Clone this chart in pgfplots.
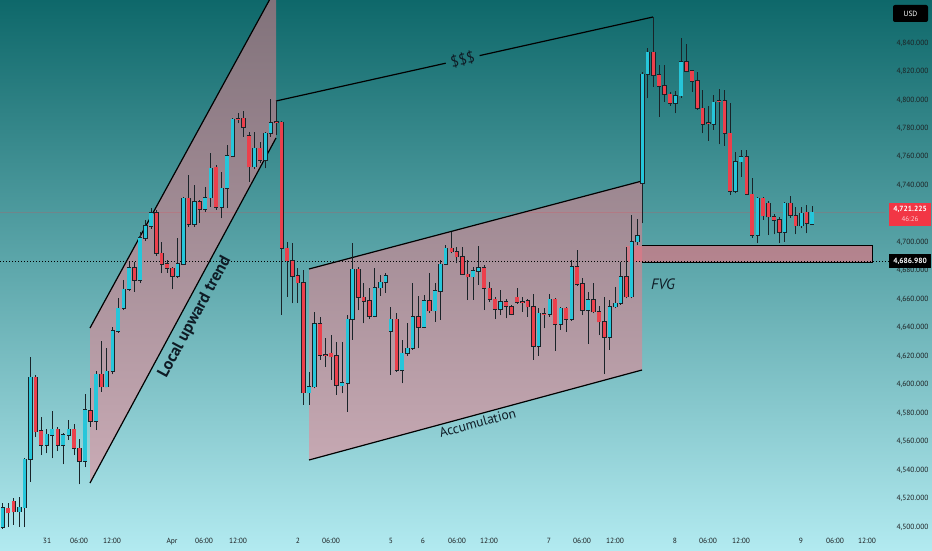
\documentclass[border=0pt]{standalone}
\usepackage{fontspec}
\setmainfont{PT Sans}
\usepackage{pgfplots}
\pgfplotsset{compat=1.18}
\usepackage{pgfplotstable}

\definecolor{bgtop}{RGB}{14,104,106}
\definecolor{bgbot}{RGB}{178,234,240}
\definecolor{upc}{RGB}{38,198,218}
\definecolor{dnc}{RGB}{236,64,76}
\definecolor{edge}{RGB}{25,35,40}
\definecolor{chan}{RGB}{245,125,140}
\definecolor{fvg}{RGB}{240,110,125}
\definecolor{tagred}{RGB}{242,54,69}
\definecolor{lbl}{RGB}{28,32,34}
\definecolor{ink}{RGB}{15,28,38}

% candles: x = pixel column, lo/hi = body, l/h = wick
\pgfplotstableread{
x lo hi l h
2.7 4499.99 4513.34 4498.59 4516.85
19.3 4510.74 4513.83 4499.99 4521.28
24.7 4513.69 4547.55 4499.99 4548.46
30.3 4547.55 4605.16 4531.82 4619.21
46.7 4557.39 4565.11 4551.77 4568.84
52 4564.41 4568.63 4548.25 4581.48
63 4557.39 4564.62 4544.04 4566.24
68.7 4564.41 4568.63 4561.11 4575.16
85 4546.36 4582.18 4541.93 4593.42
96 4574.46 4607.26 4568.13 4609.79
106.7 4598.55 4609.37 4598.13 4625.53
112.7 4609.58 4637.68 4607.26 4640.70
118 4637.68 4653.63 4636.49 4660.65
123.7 4653.63 4666.98 4652.43 4673.51
129 4666.98 4681.94 4665.78 4686.16
140 4673.51 4703.01 4671.40 4707.23
145.3 4703.01 4711.45 4700.91 4715.66
151 4711.45 4720.58 4709.34 4724.09
177.7 4676.32 4684.75 4674.70 4702.80
183.3 4684.75 4730.90 4684.05 4732.03
194.3 4712.64 4728.52 4710.96 4740.25
205 4723.18 4731.33 4721.49 4738.63
210.7 4731.33 4751.98 4724.97 4762.94
221.7 4724.59 4737.93 4716.85 4749.59
227 4737.93 4760.62 4723.88 4768.35
232.7 4760.62 4786.40 4760.13 4787.10
254.3 4753.10 4766.03 4751.28 4777.69
265.3 4757.81 4776.57 4751.98 4777.69
270.7 4776.57 4784.01 4774.18 4800.66
309 4594.34 4598.55 4585.70 4609.09
314.3 4598.55 4642.60 4597.43 4651.24
342 4599.25 4601.36 4593.91 4630.17
347.7 4600.94 4645.90 4581.00 4648.92
352.3 4645.90 4681.03 4631.36 4699.72
374.7 4648.22 4668.10 4647.31 4681.73
380.3 4668.10 4671.89 4662.27 4677.02
385.7 4671.89 4676.32 4664.59 4678.22
390.7 4637.68 4645.90 4606.77 4654.33
402 4610.29 4622.01 4600.94 4631.36
407.3 4622.01 4625.53 4620.12 4643.09
412.7 4625.53 4647.73 4624.34 4671.61
424 4640.28 4658.76 4639.58 4662.97
435 4651.94 4665.78 4644.22 4671.19
440.3 4665.78 4684.54 4645.41 4687.56
445.7 4684.54 4695.78 4684.05 4698.10
473 4675.83 4679.83 4659.46 4682.85
478.3 4679.83 4682.15 4670.00 4697.40
500.3 4653.13 4658.27 4648.92 4666.49
538.7 4627.15 4650.11 4620.12 4653.63
549.7 4649.63 4659.95 4647.73 4663.67
560.7 4642.39 4653.63 4638.39 4654.75
571.7 4645.90 4682.85 4644.92 4687.56
588 4652.43 4659.46 4628.55 4665.29
609.7 4633.26 4654.75 4624.34 4659.46
615.3 4654.75 4657.13 4653.63 4668.38
620.7 4657.13 4675.83 4655.95 4686.36
631.7 4661.78 4700.42 4660.65 4719.17
637.3 4700.42 4704.42 4698.10 4716.71
642.3 4741.44 4818.01 4713.34 4819.42
647.7 4818.01 4833.47 4801.15 4836.28
675.3 4797.64 4802.98 4790.62 4806.29
681 4802.98 4826.87 4801.58 4843.72
713.7 4782.89 4798.35 4778.89 4803.47
735.3 4736.03 4756.62 4734.42 4763.64
741 4756.62 4760.13 4746.08 4764.84
757.7 4705.12 4730.90 4699.29 4732.03
784.7 4707.02 4727.39 4700.42 4728.52
801.3 4711.66 4720.37 4709.83 4724.97
812 4712.64 4721.07 4712.15 4725.50
}\bull

\pgfplotstableread{
x lo hi l h
8 4510.04 4513.13 4499.99 4516.85
13.7 4510.74 4518.05 4501.40 4520.36
35.7 4566.94 4605.16 4563.43 4606.77
41 4557.39 4567.43 4550.57 4577.48
57.7 4557.39 4568.63 4553.38 4570.45
74 4555.28 4568.63 4550.57 4572.14
79.3 4546.36 4555.28 4529.99 4561.60
90.3 4574.46 4581.69 4570.45 4597.85
101.3 4598.55 4607.26 4595.04 4630.87
134.3 4673.51 4681.94 4665.08 4686.16
156.3 4692.48 4720.58 4690.37 4722.69
161.7 4684.75 4692.27 4678.22 4700.42
167 4681.73 4684.75 4678.64 4687.56
172.3 4676.32 4681.73 4666.98 4682.85
188.7 4712.64 4730.90 4710.96 4747.27
199.7 4723.18 4728.52 4713.76 4729.71
216 4724.59 4752.68 4722.69 4754.30
238 4786.20 4786.60 4783.59 4790.62
243.3 4780.78 4787.10 4774.18 4792.45
249 4753.10 4774.67 4742.56 4777.69
260 4757.81 4766.03 4755.91 4770.67
276.3 4784.10 4784.50 4775.37 4799.96
281.7 4695.78 4784.29 4649.27 4785.42
287 4687.07 4695.78 4661.78 4700.42
292.3 4676.32 4687.07 4657.13 4699.29
297.7 4671.75 4676.32 4657.35 4681.94
303.3 4594.34 4671.75 4585.70 4680.53
320 4620.82 4642.60 4617.31 4647.73
325.3 4620.60 4621.00 4612.60 4632.55
331 4619.62 4622.01 4603.26 4634.87
336.3 4599.74 4620.12 4592.73 4630.17
358.3 4661.36 4681.03 4652.43 4682.85
363.7 4658.76 4661.36 4643.09 4671.19
369.3 4648.22 4658.76 4645.90 4667.68
396.7 4610.29 4645.90 4609.09 4650.54
418.3 4640.28 4647.73 4625.53 4662.27
429.3 4651.94 4658.76 4650.54 4678.64
451.7 4693.39 4695.78 4692.27 4707.44
456.7 4689.88 4693.39 4685.24 4696.90
462.3 4677.52 4689.88 4677.02 4696.90
467.7 4675.83 4677.52 4659.46 4687.56
484 4667.68 4682.15 4652.43 4684.05
489.7 4659.95 4667.68 4658.27 4672.32
495 4653.13 4659.95 4646.11 4661.78
506 4655.25 4658.27 4646.60 4659.95
511.3 4649.41 4654.75 4648.92 4655.95
517 4657.85 4661.36 4656.65 4667.68
522.3 4658.10 4658.40 4651.24 4661.36
527.7 4654.75 4658.76 4647.73 4659.95
533.3 4627.15 4654.75 4617.31 4663.67
544 4649.50 4649.80 4639.58 4653.63
555 4642.39 4659.95 4623.85 4660.65
566 4645.90 4653.63 4637.19 4654.75
577 4670.70 4682.85 4669.30 4694.59
582.3 4652.43 4670.70 4648.92 4674.70
593.3 4651.24 4659.46 4650.11 4671.19
599 4644.22 4651.24 4634.87 4655.25
604.3 4633.26 4644.22 4607.46 4661.36
626.3 4661.78 4675.83 4660.65 4696.69
653.3 4817.52 4833.47 4809.30 4858.48
659 4809.80 4817.52 4788.23 4824.55
664.3 4803.96 4809.80 4798.77 4824.55
670 4797.64 4803.96 4795.96 4805.37
686.3 4820.33 4826.87 4819.42 4839.09
692 4813.31 4820.33 4805.79 4821.04
697.3 4794.13 4813.31 4792.94 4819.42
702.7 4782.89 4794.13 4776.57 4806.99
708.3 4783.40 4783.80 4771.16 4795.96
719 4799.10 4799.40 4768.84 4807.69
724.7 4776.57 4799.26 4767.86 4806.99
730 4736.03 4776.57 4733.22 4797.64
746.7 4733.71 4760.13 4733.22 4764.84
752 4705.12 4733.71 4703.23 4744.95
763 4718.68 4730.90 4715.66 4732.03
768.3 4717.97 4727.39 4705.12 4729.01
774 4715.66 4717.76 4705.61 4719.66
779.3 4707.02 4715.66 4699.29 4717.97
790.3 4719.17 4727.39 4717.27 4732.73
795.7 4711.66 4718.68 4705.61 4724.97
806.7 4713.34 4721.07 4706.32 4726.20
}\bear

\newcommand{\fs}[1]{\fontsize{#1}{#1}\selectfont}

\begin{document}
\begin{tikzpicture}
\useasboundingbox (0,0) rectangle (932pt,550pt);
\clip (0,0) rectangle (932pt,550pt);
\shade[top color=bgtop, bottom color=bgbot] (0,0) rectangle (932pt,550pt);

% drawings behind the candles, in pixel units (origin top left)
\begin{scope}[x=1pt, y=-1pt, yshift=550pt]
  \fill[chan, fill opacity=0.5] (90,328) -- (276,-12) -- (276,138) -- (90,483) -- cycle;
  \fill[chan, fill opacity=0.5] (309,269) -- (642,181) -- (642,370) -- (309,460) -- cycle;
  \fill[fvg, fill opacity=0.6] (626,245.5) rectangle (872.5,262.3);
  \draw[black, line width=1pt] (642,245.5) -- (872.5,245.5) -- (872.5,262.3) -- (642,262.3);
  \draw[dnc, opacity=0.22, line width=0.6pt] (0,212.3) -- (885,212.3);
  \draw[black, line width=0.9pt, dash pattern=on 1pt off 2pt] (0,261) -- (889,261);
  \begin{scope}[line width=1.2pt, black]
    \draw (90,328) -- (276,-12);
    \draw (90,483) -- (276,138);
    \draw (309,269) -- (642,181);
    \draw (309,460) -- (642,370);
    \draw (276,101) -- (445.7,63.2);
    \draw (479.6,55.6) -- (653,17);
  \end{scope}
\end{scope}

\begin{axis}[
  at={(0pt,19pt)}, anchor=south west,
  scale only axis, width=885pt, height=531pt,
  xmin=0, xmax=885, ymin=4497.18, ymax=4870.21,
  axis line style={draw=none},
  tick style={draw=none},
  major tick length=0pt,
  xtick={47,79,112,172,204,238,298,331,391,423,457,489,549,582,615,675,708,741,801,835,867},
  xticklabels={31,06:00,12:00,Apr,06:00,12:00,2,06:00,5,6,06:00,12:00,7,06:00,12:00,8,06:00,12:00,9,06:00,12:00},
  xticklabel style={font=\fs{7.5}, text=lbl, yshift=-4pt},
  ytick={4500,4520,...,4840},
  yticklabel pos=right,
  scaled y ticks=false,
  yticklabel style={font=\fs{7.5}, text=lbl, anchor=west, xshift=8pt,
    /pgf/number format/.cd, fixed, fixed zerofill, precision=3, 1000 sep={,}, assume math mode=true},
]
% wicks
\addplot[draw=none, mark=none, forget plot, error bars/.cd, y dir=plus, y explicit, error mark=none,
  error bar style={draw=edge, line width=0.9pt}]
  table[x=x, y=l, y error plus expr=\thisrow{h}-\thisrow{l}] {\bull};
\addplot[draw=none, mark=none, forget plot, error bars/.cd, y dir=plus, y explicit, error mark=none,
  error bar style={draw=edge, line width=0.9pt}]
  table[x=x, y=l, y error plus expr=\thisrow{h}-\thisrow{l}] {\bear};
% body outlines
\addplot[draw=none, mark=none, forget plot, error bars/.cd, y dir=plus, y explicit, error mark=none,
  error bar style={draw=edge, line width=4.4pt}]
  table[x=x, y expr=\thisrow{lo}-0.4, y error plus expr=\thisrow{hi}-\thisrow{lo}+0.8] {\bull};
\addplot[draw=none, mark=none, forget plot, error bars/.cd, y dir=plus, y explicit, error mark=none,
  error bar style={draw=edge, line width=4.4pt}]
  table[x=x, y expr=\thisrow{lo}-0.4, y error plus expr=\thisrow{hi}-\thisrow{lo}+0.8] {\bear};
% bodies
\addplot[draw=none, mark=none, forget plot, error bars/.cd, y dir=plus, y explicit, error mark=none,
  error bar style={draw=upc, line width=3.3pt}]
  table[x=x, y=lo, y error plus expr=\thisrow{hi}-\thisrow{lo}] {\bull};
\addplot[draw=none, mark=none, forget plot, error bars/.cd, y dir=plus, y explicit, error mark=none,
  error bar style={draw=dnc, line width=3.3pt}]
  table[x=x, y=lo, y error plus expr=\thisrow{hi}-\thisrow{lo}] {\bear};
\end{axis}

% texts and price tags
\begin{scope}[x=1pt, y=-1pt, yshift=550pt]
  \path (90,483) -- (276,138) node[pos=0.5, sloped, below, inner sep=6pt, text=ink, font=\fs{16.5}\bfseries] {Local upward trend};
  \path (309,460) -- (642,370) node[pos=0.5, sloped, below, inner sep=3pt, text=ink, font=\fs{13.5}] {Accumulation};
  \node[text=ink, font=\fs{15}, rotate=12.6] at (462.6,59.4) {\$\$\$};
  \node[text=ink, font=\fs{15}\itshape] at (663,284) {FVG};
  \fill[tagred] (889,203) rectangle (931,226);
  \node[text=white, font=\fs{7.5}\bfseries, inner sep=0pt] at (910,209.5) {4,721.225};
  \node[text=white!75!tagred, font=\fs{7}, inner sep=0pt] at (910,219.5) {46:26};
  \fill[black] (889,254) rectangle (931,268);
  \node[text=white, font=\fs{7.5}\bfseries, inner sep=0pt] at (910,261) {4,686.980};
  \fill[black, rounded corners=2pt] (893,5) rectangle (928,22);
  \node[text=white, font=\fs{7.5}, inner sep=0pt] at (910.5,13.5) {USD};
\end{scope}
\end{tikzpicture}
\end{document}
